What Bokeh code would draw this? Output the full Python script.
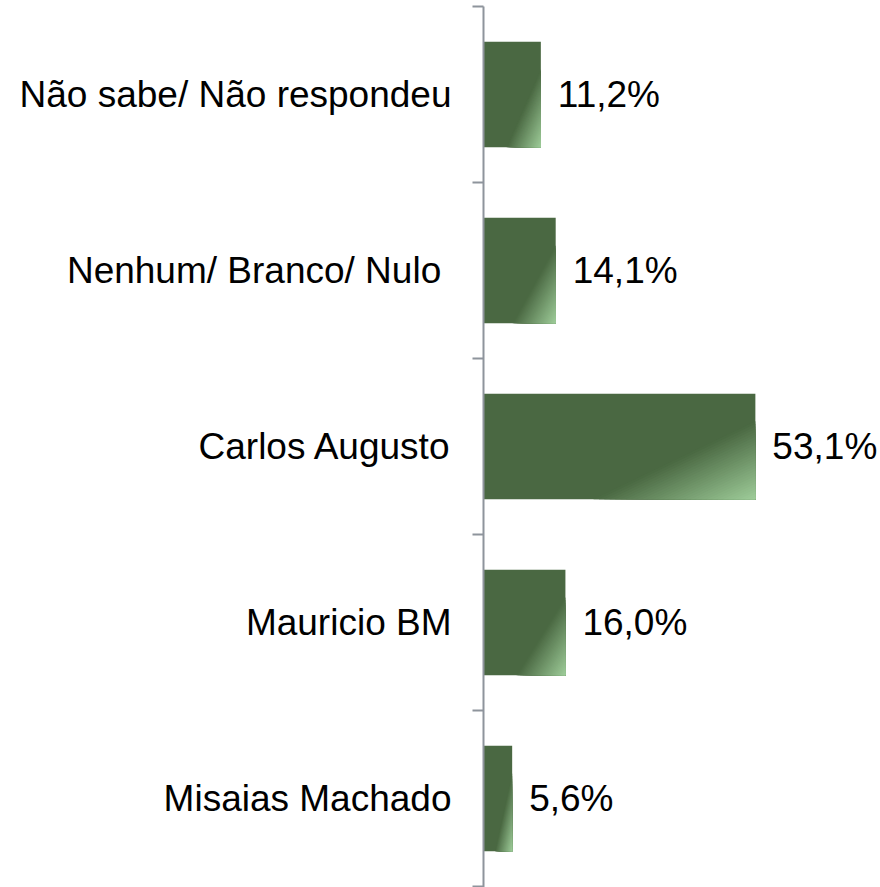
from bokeh.plotting import figure
from bokeh.models import Range1d, FixedTicker, ColumnDataSource
from bokeh.core.properties import value
from bokeh.embed import file_html
from bokeh.resources import INLINE

# ---- data (top to bottom as in the chart) ----
categories = ["Não sabe/ Não respondeu", "Nenhum/ Branco/ Nulo\u00a0", "Carlos Augusto",
              "Mauricio BM", "Misaias Machado"]
percentages = [11.2, 14.1, 53.1, 16.0, 5.6]
value_labels = ["11,2%", "14,1%", "53,1%", "16,0%", "5,6%"]

n = len(categories)
positions = [n - 1 - i for i in range(n)]

FONT = "Liberation Sans"
DARK = (74, 104, 66)
LIGHT = (158, 204, 153)
BAR_H = 0.6

left_border = 483
top_border = 6
total_w = 880
total_h = 887
frame_h = total_h - top_border
frame_w = total_w - left_border
spacing = 176.0
px_per_unit = 5.12

p = figure(width=total_w, height=total_h, output_backend="svg", toolbar_location=None,
           x_range=Range1d(0, frame_w / px_per_unit),
           y_range=Range1d(n - 0.5 - frame_h / spacing, n - 0.5),
           min_border_left=left_border, min_border_right=0,
           min_border_top=top_border, min_border_bottom=0)
p.outline_line_color = None
p.xgrid.visible = False
p.ygrid.visible = False
p.xaxis.visible = False

src = ColumnDataSource(dict(y=positions, right=percentages, lab=value_labels))
p.hbar(y="y", left=0, right="right", height=BAR_H, source=src,
       fill_color="#%02x%02x%02x" % DARK, line_color=None)

# gradient overlay toward bottom-right corner (computed from the bar values)
def clip(poly, a, b, c):
    # keep a*u + b*v >= c
    out = []
    m = len(poly)
    for i in range(m):
        P, Q = poly[i], poly[(i + 1) % m]
        fp = a * P[0] + b * P[1] - c
        fq = a * Q[0] + b * Q[1] - c
        if fp >= 0:
            out.append(P)
        if (fp >= 0) != (fq >= 0):
            t = fp / (fp - fq)
            out.append((P[0] + t * (Q[0] - P[0]), P[1] + t * (Q[1] - P[1])))
    return out

A = 1.24
T0 = 0.67
NSTRIP = 30
xs_all, ys_all, cols = [], [], []
square = [(0, 0), (1, 0), (1, 1), (0, 1)]
for k in range(NSTRIP):
    ta = T0 + (1 - T0) * k / NSTRIP
    tm = T0 + (1 - T0) * (k + 0.5) / NSTRIP
    f = (tm - T0) / (1 - T0)
    col = tuple(int(round(DARK[j] + (LIGHT[j] - DARK[j]) * f)) for j in range(3))
    poly = clip(square, A, 1.0, ta * (A + 1))
    if len(poly) < 3:
        continue
    for yc, val in zip(positions, percentages):
        xs_all.append([u * val for (u, v) in poly])
        ys_all.append([yc + BAR_H / 2 - v * BAR_H for (u, v) in poly])
        cols.append("#%02x%02x%02x" % col)
p.patches(xs=xs_all, ys=ys_all, fill_color=cols, line_color=None)

p.text(x="right", y="y", text="lab", source=src, x_offset=17,
       text_font=value(FONT), text_font_size="37px", text_color="#000000",
       text_align="left", text_baseline="middle")

yax = p.yaxis[0]
yax.ticker = FixedTicker(ticks=positions, minor_ticks=[pp - 0.5 for pp in range(n + 1)])
yax.major_label_overrides = {pp: c for pp, c in zip(positions, categories)}
yax.major_label_text_font = FONT
yax.major_label_text_font_size = "37px"
yax.major_label_text_color = "#000000"
yax.major_label_standoff = 21
yax.major_tick_out = 0
yax.major_tick_in = 0
yax.minor_tick_out = 11
yax.minor_tick_in = 0
yax.minor_tick_line_color = "#8e949c"
yax.minor_tick_line_width = 2
yax.axis_line_color = "#8e949c"
yax.axis_line_width = 2

open("out.html", "w").write(file_html(p, INLINE))
